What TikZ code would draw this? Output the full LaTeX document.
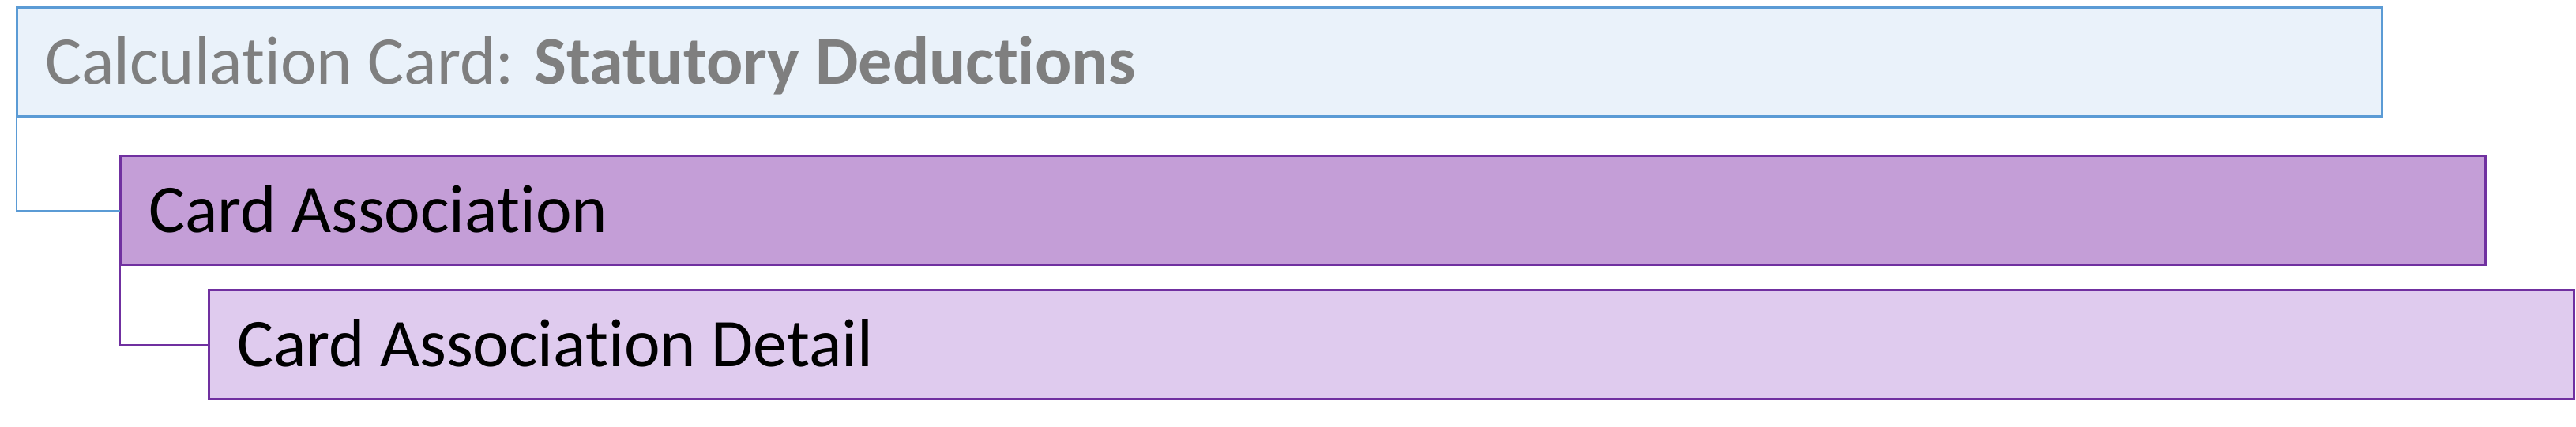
\documentclass[tikz,border=0pt]{standalone}
\usepackage{fontspec}
\setmainfont{Carlito}[RawFeature={-liga;-dlig;-calt}]
\usetikzlibrary{positioning}
\definecolor{cardblue}{HTML}{5B9BD5}
\definecolor{cardfill}{HTML}{EAF2FA}
\definecolor{cardgray}{HTML}{7F7F7F}
\definecolor{assocline}{HTML}{7030A0}
\definecolor{assocfill}{HTML}{C49ED7}
\definecolor{detailfill}{HTML}{DFCBEE}
\tikzstyle{level} = [rectangle, line width=0.75pt, outer sep=0pt, inner xsep=9pt, text width=730.5pt, align=flush left, minimum height=34.5pt, text height=13.9pt, text depth=0pt, font=\fontsize{21.6pt}{25pt}\selectfont]
\tikzstyle{card} = [level, draw=cardblue, fill=cardfill, text=cardgray]
\tikzstyle{assoc} = [level, draw=assocline, fill=assocfill]
\tikzstyle{detail} = [level, draw=assocline, fill=detailfill]
\tikzstyle{link} = [line width=0.45pt]

\begin{document}
\begin{tikzpicture}
			\useasboundingbox (0,0) rectangle (815.25pt,-135.25pt);
			% Nodes
			\node (calc) [card, anchor=west] at (5.25pt,-19.75pt) {Calculation Card: \textbf{Statutory Deductions}};
			\node (assoc) [assoc, anchor=north west, below right=12.5pt and 32.75pt of calc.south west] {Card Association};
			\node (detail) [detail, anchor=north west, below right=8pt and 28pt of assoc.south west] {Card Association Detail};
			
			% Lines
			\draw [link, draw=cardblue] (calc.south west) |- (assoc.west);
			\draw [link, draw=assocline] (assoc.south west) |- (detail.west);
		\end{tikzpicture}
\end{document}
